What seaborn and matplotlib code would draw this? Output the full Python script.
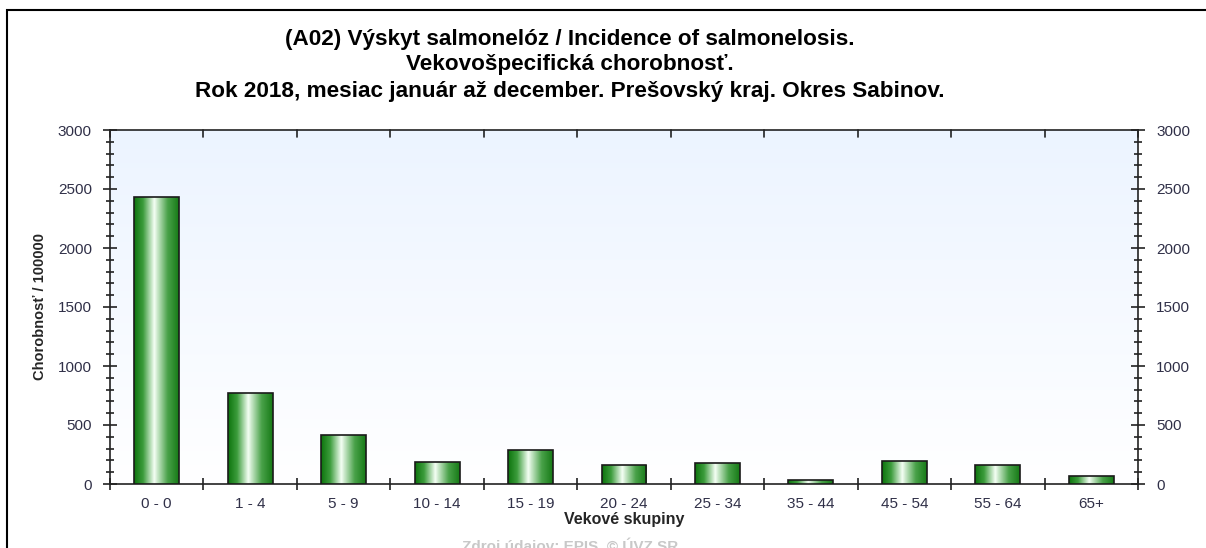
import numpy as np
import pandas as pd
import matplotlib
matplotlib.use("Agg")
import matplotlib.pyplot as plt
from matplotlib.colors import LinearSegmentedColormap
from matplotlib.patches import Rectangle
from matplotlib.ticker import MultipleLocator, FixedLocator
import seaborn as sns

# values
age_groups = ['0 - 0', '1 - 4', '5 - 9', '10 - 14', '15 - 19', '20 - 24',
              '25 - 34', '35 - 44', '45 - 54', '55 - 64', '65+']
incidence = [2430, 775, 415, 186, 288, 161, 175, 34, 197, 161, 68]

title_lines = ['(A02) Výskyt salmonelóz / Incidence of salmonelosis.',
               'Vekovošpecifická chorobnosť.',
               'Rok 2018, mesiac január až december. Prešovský kraj. Okres Sabinov.']

df = pd.DataFrame({'group': age_groups, 'value': incidence})

sns.set_theme(style='white')
plt.rcParams['font.family'] = ['Liberation Sans', 'DejaVu Sans']

fig = plt.figure(figsize=(12.06, 5.48), dpi=100)
ax = fig.add_axes([110 / 1206, 64 / 548, 1028 / 1206, 354 / 548])

sns.barplot(data=df, x='group', y='value', color='#1a8a1a', width=0.48,
            edgecolor='#1a1a1a', linewidth=1.2, ax=ax, zorder=3)

# background gradient light blue -> white
bg = np.linspace(1, 0, 256).reshape(-1, 1)
bg_cmap = LinearSegmentedColormap.from_list('bg', ['#ffffff', '#ecf4ff'])
ax.imshow(bg, cmap=bg_cmap, aspect='auto', extent=[0, 1, 0, 1],
          transform=ax.transAxes, zorder=0, vmin=0, vmax=1)

# cylinder-like gradient inside the bars
bar_cmap = LinearSegmentedColormap.from_list(
    'bar', [(0, '#0d740d'), (0.2, '#3c9c3c'), (0.45, '#f4fff4'),
            (0.75, '#4aa24a'), (1, '#167a16')])
grad = np.linspace(0, 1, 128).reshape(1, -1)
for p in ax.patches:
    x0, w, h = p.get_x(), p.get_width(), p.get_height()
    im = ax.imshow(grad, cmap=bar_cmap, aspect='auto',
                   extent=[x0, x0 + w, 0, h], zorder=3.5)
    im.set_clip_path(p)
    p.set_facecolor('none')
    p.set_zorder(4)

ax.set_xlim(-0.5, len(age_groups) - 0.5)
ax.set_ylim(0, 3000)

for s in ax.spines.values():
    s.set_color('#222222')
    s.set_linewidth(1.2)

tick_col = '#303048'
ax.yaxis.set_major_locator(MultipleLocator(500))
ax.yaxis.set_minor_locator(MultipleLocator(100))
ax.tick_params(axis='y', which='major', direction='inout', length=10, width=1.2,
               color='#222222', labelsize=11, labelcolor=tick_col, pad=8,
               left=True, right=True, labelleft=True, labelright=True)
ax.tick_params(axis='y', which='minor', direction='inout', length=6, width=1.2,
               color='#222222', left=True, right=True)

bounds = np.arange(-0.5, len(age_groups), 1.0)
ax.xaxis.set_minor_locator(FixedLocator(bounds))
ax.tick_params(axis='x', which='major', length=0, labelsize=11,
               labelcolor=tick_col, pad=9)
ax.tick_params(axis='x', which='minor', direction='inout', length=9, width=1.2,
               color='#222222', bottom=True, top=False)
for b in bounds:
    ax.plot([b, b], [3000, 2940], color='#222222', lw=1.2, clip_on=False, zorder=5)

ax.set_xlabel('Vekové skupiny', fontsize=11.5, fontweight='bold', labelpad=1)
ax.set_ylabel('Chorobnosť / 100000', fontsize=10.5, fontweight='bold', labelpad=8)
ax.grid(False)

for i, line in enumerate(title_lines):
    fig.text(570 / 1206, 1 - (39 + 26 * i) / 548, line, ha='center', va='center',
             fontsize=16.2, fontweight='bold', color='#000000')

fig.text(570 / 1206, 1 - 537 / 548, 'Zdroj údajov: EPIS, © ÚVZ SR', ha='center',
         va='top', fontsize=11, fontweight='bold', color='#c8c8c8')

fig.add_artist(Rectangle((7 / 1206, -0.2), 1.1, 1.2 - 10 / 548,
                         transform=fig.transFigure, fill=False,
                         edgecolor='#000000', linewidth=1.5, clip_on=False))

fig.savefig('out.png', dpi=100, facecolor='white')
